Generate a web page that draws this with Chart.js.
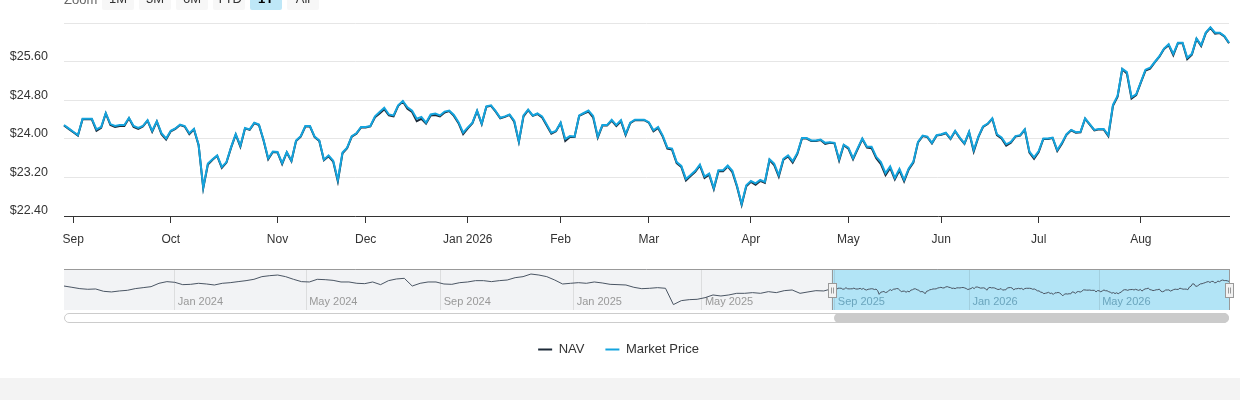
<!DOCTYPE html>
<html>
<head>
<meta charset="utf-8">
<title>NAV vs Market Price</title>
<script src="https://cdn.jsdelivr.net/npm/chart.js@4.4.1/dist/chart.umd.min.js"></script>
<style>
  body { margin: 0; background: #fff; font-family: "Liberation Sans", Arial, sans-serif; }
  #wrap { position: relative; width: 1240px; height: 400px; overflow: hidden; }
  #main { position: absolute; left: 0; top: 0; }
  #navigator { position: absolute; left: 0; top: 262px; }
  .zoom { position: absolute; left: 64px; top: -12px; height: 22px; display: flex; align-items: center; font-size: 13px; }
  .zoom .lbl { color: #666; width: 38px; }
  .zoom .btn { width: 32px; height: 22px; line-height: 22px; margin-right: 5px; text-align: center; background: #f7f7f7; color: #333; border-radius: 2px; }
  .zoom .btn.on { background: #bee7f7; color: #000; font-weight: bold; }
  .track { position: absolute; left: 64px; top: 313px; width: 1163px; height: 8px; border: 1px solid #ccc; border-radius: 5px; background: #fff; }
  .thumb { position: absolute; left: 834px; top: 313px; width: 395px; height: 10px; border-radius: 5px; background: #cbcbcb; }
  .band { position: absolute; left: 0; top: 378px; width: 1240px; height: 22px; background: #f3f3f3; }
</style>
</head>
<body>
<div id="wrap">
  <canvas id="main" width="1240" height="378"></canvas>
  <div class="zoom">
    <span class="lbl">Zoom</span>
    <span class="btn">1M</span><span class="btn">3M</span><span class="btn">6M</span><span class="btn">YTD</span><span class="btn on">1Y</span><span class="btn">All</span>
  </div>
  <canvas id="navigator" width="1240" height="50"></canvas>
  <div class="track"></div>
  <div class="thumb"></div>
  <div class="band"></div>
</div>
<script>
// Datos
const monthNames = ['Jan', 'Feb', 'Mar', 'Apr', 'May', 'Jun', 'Jul', 'Aug', 'Sep', 'Oct', 'Nov', 'Dec'];
const yTicks = [22.4, 23.2, 24.0, 24.8, 25.6, 26.4];
const holidays = [
  '2023-11-23', '2023-12-25',
  '2024-01-01', '2024-01-15', '2024-02-19', '2024-03-29', '2024-05-27', '2024-06-19', '2024-07-04', '2024-09-02', '2024-11-28', '2024-12-25',
  '2025-01-01', '2025-01-09', '2025-01-20', '2025-02-17', '2025-04-18', '2025-05-26', '2025-06-19', '2025-07-04', '2025-09-01', '2025-11-27', '2025-12-25',
  '2026-01-01', '2026-01-19', '2026-02-16', '2026-04-03', '2026-05-25', '2026-06-19', '2026-07-03'
];
const firstDay = '2023-09-21';
const mainFirstDay = '2025-08-28';
const lastDay = '2026-08-28';

const marketPrice = [
  24.29, 24.22, 24.15, 24.08, 24.42, 24.42, 24.42, 24.20, 24.25, 24.54,
  24.31, 24.27, 24.29, 24.29, 24.44, 24.27, 24.23, 24.27, 24.39, 24.17,
  24.37, 24.12, 24.01, 24.17, 24.22, 24.30, 24.27, 24.12, 24.21, 23.88,
  22.99, 23.49, 23.58, 23.66, 23.42, 23.52, 23.83, 24.10, 23.86, 24.23,
  24.20, 24.34, 24.30, 23.98, 23.60, 23.74, 23.73, 23.50, 23.73, 23.55,
  23.97, 24.06, 24.27, 24.27, 24.05, 23.97, 23.57, 23.66, 23.55, 23.15,
  23.72, 23.82, 24.06, 24.12, 24.25, 24.25, 24.27, 24.47, 24.56, 24.65,
  24.51, 24.49, 24.70, 24.79, 24.66, 24.59, 24.42, 24.46, 24.34, 24.51,
  24.53, 24.49, 24.57, 24.59, 24.50, 24.35, 24.13, 24.24, 24.34, 24.59,
  24.32, 24.68, 24.70, 24.58, 24.44, 24.47, 24.51, 24.38, 23.95, 24.49,
  24.61, 24.49, 24.53, 24.47, 24.30, 24.13, 24.17, 24.34, 24.00, 24.06,
  24.05, 24.49, 24.54, 24.59, 24.48, 24.05, 24.29, 24.29, 24.40, 24.29,
  24.39, 24.10, 24.34, 24.40, 24.40, 24.40, 24.35, 24.18, 24.25, 24.07,
  23.82, 23.80, 23.52, 23.44, 23.17, 23.25, 23.34, 23.47, 23.22, 23.28,
  22.98, 23.35, 23.35, 23.45, 23.34, 23.03, 22.65, 23.04, 23.13, 23.08,
  23.15, 23.11, 23.58, 23.49, 23.25, 23.59, 23.66, 23.54, 23.71, 24.02,
  24.02, 23.97, 23.97, 23.99, 23.92, 23.93, 23.92, 23.58, 23.88, 23.82,
  23.60, 23.81, 24.01, 23.84, 23.84, 23.63, 23.52, 23.29, 23.43, 23.19,
  23.38, 23.15, 23.39, 23.53, 23.94, 24.07, 24.05, 23.92, 24.08, 24.10,
  24.13, 24.01, 24.17, 24.03, 23.91, 24.15, 23.77, 24.05, 24.26, 24.32,
  24.43, 24.10, 24.03, 23.89, 23.94, 24.06, 24.08, 24.20, 23.74, 23.62,
  23.75, 24.01, 24.01, 24.03, 23.77, 23.92, 24.10, 24.19, 24.14, 24.15,
  24.43, 24.31, 24.19, 24.21, 24.21, 24.08, 24.71, 24.90, 25.46, 25.39,
  24.87, 24.93, 25.18, 25.44, 25.48, 25.60, 25.72, 25.88, 25.97, 25.77,
  26.00, 26.00, 25.69, 25.77, 26.09, 25.95, 26.21, 26.32, 26.21, 26.21,
  26.14, 26.00
];

const nav = [
  24.28, 24.21, 24.14, 24.07, 24.41, 24.41, 24.41, 24.17, 24.23, 24.53,
  24.29, 24.25, 24.27, 24.27, 24.43, 24.25, 24.21, 24.26, 24.38, 24.15,
  24.36, 24.10, 23.99, 24.16, 24.21, 24.29, 24.26, 24.10, 24.20, 23.87,
  22.98, 23.47, 23.57, 23.65, 23.40, 23.51, 23.82, 24.09, 23.84, 24.22,
  24.19, 24.33, 24.29, 23.97, 23.58, 23.73, 23.72, 23.48, 23.72, 23.54,
  23.96, 24.05, 24.26, 24.26, 24.04, 23.96, 23.56, 23.64, 23.53, 23.12,
  23.70, 23.81, 24.05, 24.11, 24.24, 24.24, 24.26, 24.45, 24.53, 24.62,
  24.49, 24.47, 24.69, 24.78, 24.63, 24.56, 24.37, 24.42, 24.32, 24.49,
  24.50, 24.47, 24.55, 24.58, 24.48, 24.33, 24.10, 24.22, 24.33, 24.58,
  24.31, 24.67, 24.69, 24.57, 24.43, 24.46, 24.50, 24.36, 23.94, 24.47,
  24.60, 24.48, 24.52, 24.45, 24.28, 24.11, 24.16, 24.33, 23.96, 24.04,
  24.04, 24.48, 24.53, 24.57, 24.45, 24.03, 24.28, 24.28, 24.38, 24.27,
  24.37, 24.08, 24.33, 24.39, 24.39, 24.39, 24.34, 24.16, 24.23, 24.05,
  23.80, 23.78, 23.50, 23.42, 23.14, 23.23, 23.32, 23.45, 23.19, 23.26,
  22.96, 23.33, 23.33, 23.43, 23.31, 23.01, 22.63, 23.02, 23.11, 23.05,
  23.13, 23.09, 23.56, 23.46, 23.22, 23.57, 23.64, 23.51, 23.69, 24.01,
  24.01, 23.96, 23.96, 23.98, 23.90, 23.92, 23.91, 23.55, 23.87, 23.80,
  23.58, 23.79, 24.00, 23.82, 23.81, 23.60, 23.48, 23.25, 23.40, 23.16,
  23.35, 23.12, 23.37, 23.51, 23.93, 24.06, 24.04, 23.91, 24.07, 24.09,
  24.12, 24.00, 24.16, 24.02, 23.90, 24.14, 23.74, 24.04, 24.25, 24.31,
  24.42, 24.08, 24.01, 23.86, 23.92, 24.05, 24.07, 24.19, 23.72, 23.59,
  23.73, 24.00, 24.00, 24.02, 23.75, 23.90, 24.09, 24.18, 24.13, 24.14,
  24.42, 24.30, 24.18, 24.20, 24.20, 24.06, 24.69, 24.88, 25.45, 25.36,
  24.84, 24.91, 25.17, 25.42, 25.46, 25.59, 25.71, 25.87, 25.95, 25.74,
  25.99, 25.99, 25.66, 25.75, 26.08, 25.93, 26.20, 26.31, 26.19, 26.20,
  26.13, 25.99
];

// NAV anterior (un valor cada 5 sesiones) para el navegador
const navHistory = [
  24.92, 24.62, 24.31, 24.16, 24.23, 23.69, 23.54, 23.77, 23.92, 24.31,
  24.54, 24.77, 25.55, 25.94, 25.78, 25.24, 25.31, 25.55, 25.39, 25.16,
  25.55, 25.70, 25.94, 26.17, 26.48, 27.10, 27.33, 27.48, 27.10, 26.48,
  25.94, 25.86, 26.48, 26.40, 26.24, 25.86, 25.86, 25.55, 25.47, 25.86,
  25.24, 26.17, 26.56, 26.71, 24.92, 25.55, 25.86, 25.86, 25.39, 25.31,
  25.70, 25.86, 26.17, 26.17, 25.94, 26.17, 26.32, 26.86, 27.10, 27.71,
  27.48, 27.10, 26.32, 25.39, 25.55, 25.70, 25.55, 25.86, 25.63, 25.31,
  25.24, 25.16, 24.62, 24.30, 24.39, 24.54, 24.39, 20.60, 21.52, 21.75,
  21.83, 22.21, 22.84, 22.60, 22.84, 23.22, 23.22, 23.38, 23.22, 23.61,
  23.38, 23.84, 24.00, 23.22, 23.54, 23.84, 23.77
];

// Sesiones bursátiles
const holidaySet = new Set(holidays);
const allDays = [];
for (let t = Date.parse(firstDay); t <= Date.parse(lastDay); t += 86400000) {
  const d = new Date(t);
  const iso = d.toISOString().slice(0, 10);
  if (d.getUTCDay() === 0 || d.getUTCDay() === 6 || holidaySet.has(iso)) continue;
  allDays.push(iso);
}
const mainStart = allDays.indexOf(mainFirstDay);
const mainLabels = allDays.slice(mainStart);

const monthOf = s => +s.slice(5, 7) - 1;
const mainTicks = new Set();
mainLabels.forEach((d, i) => { if (i > 0 && monthOf(d) !== monthOf(mainLabels[i - 1])) mainTicks.add(i); });
const navTicks = new Set();
allDays.forEach((d, i) => {
  if (i > 0 && monthOf(d) !== monthOf(allDays[i - 1]) && monthOf(d) % 4 === 0) navTicks.add(i);
});

const navSeries = allDays.map((d, i) => {
  if (i >= mainStart) return nav[i - mainStart];
  return i % 5 === 0 ? (navHistory[i / 5] ?? null) : null;
});

const font = 'Liberation Sans, Arial, sans-serif';

// Gráfico principal
new Chart(document.getElementById('main'), {
  type: 'line',
  data: {
    labels: mainLabels,
    datasets: [
      { label: 'Market Price', data: marketPrice, borderColor: '#14a4de', backgroundColor: '#14a4de', borderWidth: 2, pointRadius: 0, pointStyle: 'line', tension: 0 },
      { label: 'NAV', data: nav, borderColor: '#1d2a38', backgroundColor: '#1d2a38', borderWidth: 2, pointRadius: 0, pointStyle: 'line', tension: 0 }
    ]
  },
  options: {
    responsive: false,
    animation: false,
    events: [],
    layout: { padding: { left: 8, right: 11, top: 23, bottom: 12 } },
    plugins: {
      tooltip: { enabled: false },
      legend: {
        position: 'bottom',
        reverse: true,
        labels: { usePointStyle: true, pointStyle: 'line', pointStyleWidth: 14, padding: 21, color: '#333', font: { family: font, size: 13 } }
      }
    },
    scales: {
      x: {
        afterBuildTicks: s => { s.ticks = s.ticks.filter(t => mainTicks.has(t.value)); },
        afterFit: s => { s.height = 106; },
        ticks: {
          autoSkip: false, maxRotation: 0, padding: 9, color: '#333', font: { family: font, size: 12 },
          callback: v => { const d = mainLabels[v]; const m = monthOf(d); return m === 0 ? monthNames[m] + ' ' + d.slice(0, 4) : monthNames[m]; }
        },
        grid: { drawOnChartArea: false, tickLength: 7, tickColor: '#333' },
        border: { color: '#333' }
      },
      y: {
        min: 22.4, max: 26.4,
        afterBuildTicks: s => { s.ticks = yTicks.map(v => ({ value: v })); },
        afterFit: s => { s.width = 56; },
        ticks: { padding: 16, labelOffset: -5, color: '#333', font: { family: font, size: 12.5 },
          callback: v => v >= 26.4 ? '' : '$' + v.toFixed(2) },
        grid: { color: '#e6e6e6', drawTicks: false },
        border: { display: false }
      }
    }
  }
});

// Navegador
const navDecor = {
  id: 'navDecor',
  beforeDraw(chart) {
    const { ctx, chartArea: a, scales: { x } } = chart;
    const sel = x.getPixelForValue(mainStart);
    ctx.save();
    ctx.fillStyle = '#f2f3f5';
    ctx.fillRect(a.left, a.top, sel - a.left, a.bottom - a.top);
    ctx.fillStyle = '#b2e4f6';
    ctx.fillRect(sel, a.top, a.right - sel, a.bottom - a.top);
    ctx.restore();
  },
  beforeDatasetsDraw(chart) {
    const { ctx, chartArea: a, scales: { x } } = chart;
    const sel = x.getPixelForValue(mainStart);
    ctx.save();
    ctx.font = '11px ' + font;
    ctx.textBaseline = 'middle';
    x.ticks.forEach(t => {
      const px = x.getPixelForValue(t.value);
      const d = allDays[t.value];
      ctx.fillStyle = px >= sel ? '#6aa5bd' : '#999';
      ctx.fillText(monthNames[monthOf(d)] + ' ' + d.slice(0, 4), px + 3, a.bottom - 8);
    });
    ctx.restore();
  },
  afterDraw(chart) {
    const { ctx, chartArea: a, scales: { x } } = chart;
    const sel = x.getPixelForValue(mainStart);
    ctx.save();
    ctx.strokeStyle = '#999';
    ctx.lineWidth = 1;
    ctx.beginPath();
    ctx.moveTo(a.left, a.top + 0.5); ctx.lineTo(a.right, a.top + 0.5);
    ctx.moveTo(Math.round(sel) + 0.5, a.top); ctx.lineTo(Math.round(sel) + 0.5, a.bottom);
    ctx.moveTo(Math.round(a.right) + 0.5, a.top); ctx.lineTo(Math.round(a.right) + 0.5, a.bottom);
    ctx.stroke();
    const cy = (a.top + a.bottom) / 2;
    [sel, a.right].forEach(hx => {
      const x0 = Math.round(hx) - 3.5, y0 = Math.round(cy - 7) + 0.5;
      ctx.fillStyle = '#f2f2f2';
      ctx.fillRect(x0, y0, 8, 14);
      ctx.strokeRect(x0, y0, 8, 14);
      ctx.beginPath();
      ctx.moveTo(x0 + 3, y0 + 4); ctx.lineTo(x0 + 3, y0 + 10);
      ctx.moveTo(x0 + 5, y0 + 4); ctx.lineTo(x0 + 5, y0 + 10);
      ctx.stroke();
    });
    ctx.restore();
  }
};

new Chart(document.getElementById('navigator'), {
  type: 'line',
  data: {
    labels: allDays,
    datasets: [{ data: navSeries, borderColor: '#4a5563', borderWidth: 1, pointRadius: 0, tension: 0, spanGaps: true }]
  },
  options: {
    responsive: false,
    animation: false,
    events: [],
    layout: { padding: { left: 64, right: 11, top: 7, bottom: 2 } },
    plugins: { legend: { display: false }, tooltip: { enabled: false } },
    scales: {
      x: {
        afterBuildTicks: s => { s.ticks = s.ticks.filter(t => navTicks.has(t.value)); },
        ticks: { display: false, autoSkip: false },
        grid: { color: 'rgba(0,0,0,0.09)', drawTicks: false },
        border: { display: false }
      },
      y: { display: false, min: 19.34, max: 28.88 }
    }
  },
  plugins: [navDecor]
});
</script>
</body>
</html>
